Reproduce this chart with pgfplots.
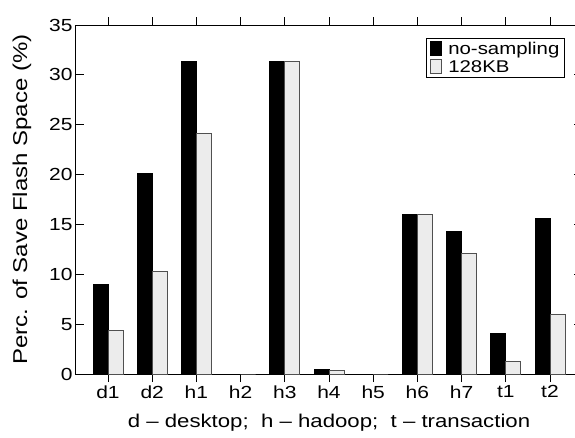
\documentclass[border=0pt]{standalone}
\usepackage{fontspec}
\setmainfont{Liberation Sans}[FakeStretch=1.2]
\usepackage{pgfplots}
\pgfplotsset{compat=1.18}
\usetikzlibrary{calc}
\definecolor{lightbar}{RGB}{236,236,236}
\definecolor{lightedge}{RGB}{80,80,80}
\begin{document}
\begin{tikzpicture}
\begin{axis}[
  scale only axis,
  width=506pt, height=349pt,
  xmin=-0.724, xmax=10.724,
  ymin=0, ymax=35,
  ytick={0,5,10,15,20,25,30,35},
  xtick={0,1,2,3,4,5,6,7,8,9,10},
  xticklabels={d1,d2,h1,h2,h3,h4,h5,h6,h7,t1,t2},
  tick align=inside,
  major tick length=8pt,
  tick style={black, line width=0.8pt},
  axis line style={line width=1pt},
  /pgf/number format/assume math mode=true,
  tick label style={font=\fontsize{17.5}{21}\selectfont},
  xlabel={d -- desktop;\ \ h -- hadoop;\ \ t -- transaction},
  ylabel={Perc. of Save Flash Space (\%)},
  xlabel style={at={(axis description cs:0.5,-0.1547)}, anchor=base, font=\fontsize{18.5}{22}\selectfont},
  ylabel style={at={(axis description cs:-0.0968,0.5)}, anchor=base, font=\fontsize{20}{24}\selectfont},
  ybar=0pt,
  bar width=15pt,
  legend style={at={(axis description cs:0.6917,0.9628)}, anchor=north west,
    draw=black, line width=1pt, font=\fontsize{17}{20}\selectfont,
    inner xsep=3pt, inner ysep=2pt, row sep=0pt, column sep=5pt},
  legend cell align=left,
  legend image code/.code={\draw[#1, line width=0.8pt] (0pt,-6pt) rectangle (11pt,8pt);},
]
\addplot[fill=black, draw=black, line width=0.8pt] coordinates {
 (0,9.0) (1,20.1) (2,31.3) (3,0) (4,31.3) (5,0.5) (6,0) (7,16.0) (8,14.3) (9,4.1) (10,15.6)};
\addplot[fill=lightbar, draw=lightedge, line width=0.8pt] coordinates {
 (0,4.4) (1,10.3) (2,24.1) (3,0) (4,31.3) (5,0.4) (6,0) (7,16.0) (8,12.1) (9,1.3) (10,6.0)};
\legend{no-sampling,128KB}
\coordinate (A) at (rel axis cs:0,0);
\end{axis}
\pgfresetboundingbox
\path[use as bounding box] ($(A)+(-76pt,-63pt)$) rectangle ($(A)+(499pt,374pt)$);
\end{tikzpicture}
\end{document}
